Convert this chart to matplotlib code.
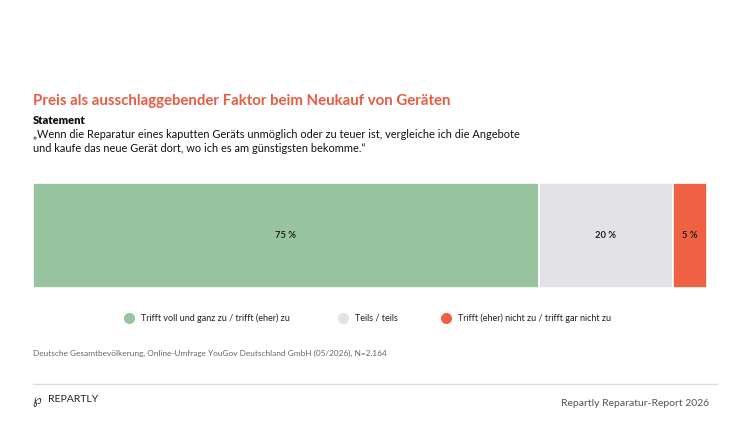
import matplotlib
matplotlib.use("Agg")
import matplotlib.pyplot as plt
from matplotlib.lines import Line2D

plt.rcParams['font.family'] = ['Lato', 'DejaVu Sans']

categories = ["Trifft voll und ganz zu / trifft (eher) zu", "Teils / teils", "Trifft (eher) nicht zu / trifft gar nicht zu"]
values = [75, 20, 5]
colors = ["#98C4A0", "#E3E3E7", "#F06042"]
value_labels = ["75 %", "20 %", "5 %"]

W, H = 750, 422
fig = plt.figure(figsize=(W/100, H/100), dpi=100)
fig.patch.set_facecolor("white")

def fx(x): return x / W
def fy(y): return 1 - y / H

ax = fig.add_axes([fx(33), fy(288), fx(707) - fx(33), fy(183) - fy(288)])
left = 0
for v, c, lab in zip(values, colors, value_labels):
    ax.barh(0, v, left=left, color=c, height=1, edgecolor="white", linewidth=1.2)
    ax.text(left + v / 2, 0, lab, ha="center", va="center", fontsize=6.8, fontweight="bold", color="#222222")
    left += v
ax.set_xlim(0, 100)
ax.set_ylim(-0.5, 0.5)
ax.axis("off")

fig.text(fx(33), fy(101), "Preis als ausschlaggebender Faktor beim Neukauf von Geräten",
         fontsize=10.85, fontweight="bold", color="#E85C41", va="center", ha="left")
fig.text(fx(33), fy(120), "Statement", fontsize=8, fontweight="heavy", color="#111111", va="center")
fig.text(fx(33), fy(134), "„Wenn die Reparatur eines kaputten Geräts unmöglich oder zu teuer ist, vergleiche ich die Angebote",
         fontsize=7.9, color="#111111", va="center")
fig.text(fx(33), fy(148), "und kaufe das neue Gerät dort, wo ich es am günstigsten bekomme.“",
         fontsize=7.9, color="#111111", va="center")

marker_x = [129, 343, 446]
for mx, c, lab in zip(marker_x, colors, categories):
    fig.add_artist(Line2D([fx(mx)], [fy(318)], marker="o", markersize=7, color=c, linestyle="none",
                          transform=fig.transFigure))
    fig.text(fx(mx + 12), fy(318), lab, fontsize=6.5, color="#222222", va="center")

fig.text(fx(33), fy(353), "Deutsche Gesamtbevölkerung, Online-Umfrage YouGov Deutschland GmbH (05/2026), N=2.164",
         fontsize=5.95, color="#666666", va="center")

fig.add_artist(Line2D([fx(33), fx(717)], [fy(384), fy(384)], color="#DDDDDD", linewidth=1,
                      transform=fig.transFigure))
fig.text(fx(32), fy(401), "℘", fontsize=9, color="#222222", va="center", family="DejaVu Sans")
fig.text(fx(48), fy(400), "REPARTLY", fontsize=7.5, color="#222222", va="center")
fig.text(fx(709), fy(403), "Repartly Reparatur-Report 2026", fontsize=7.5, color="#555555", va="center", ha="right")

fig.savefig("out.png", dpi=100)
